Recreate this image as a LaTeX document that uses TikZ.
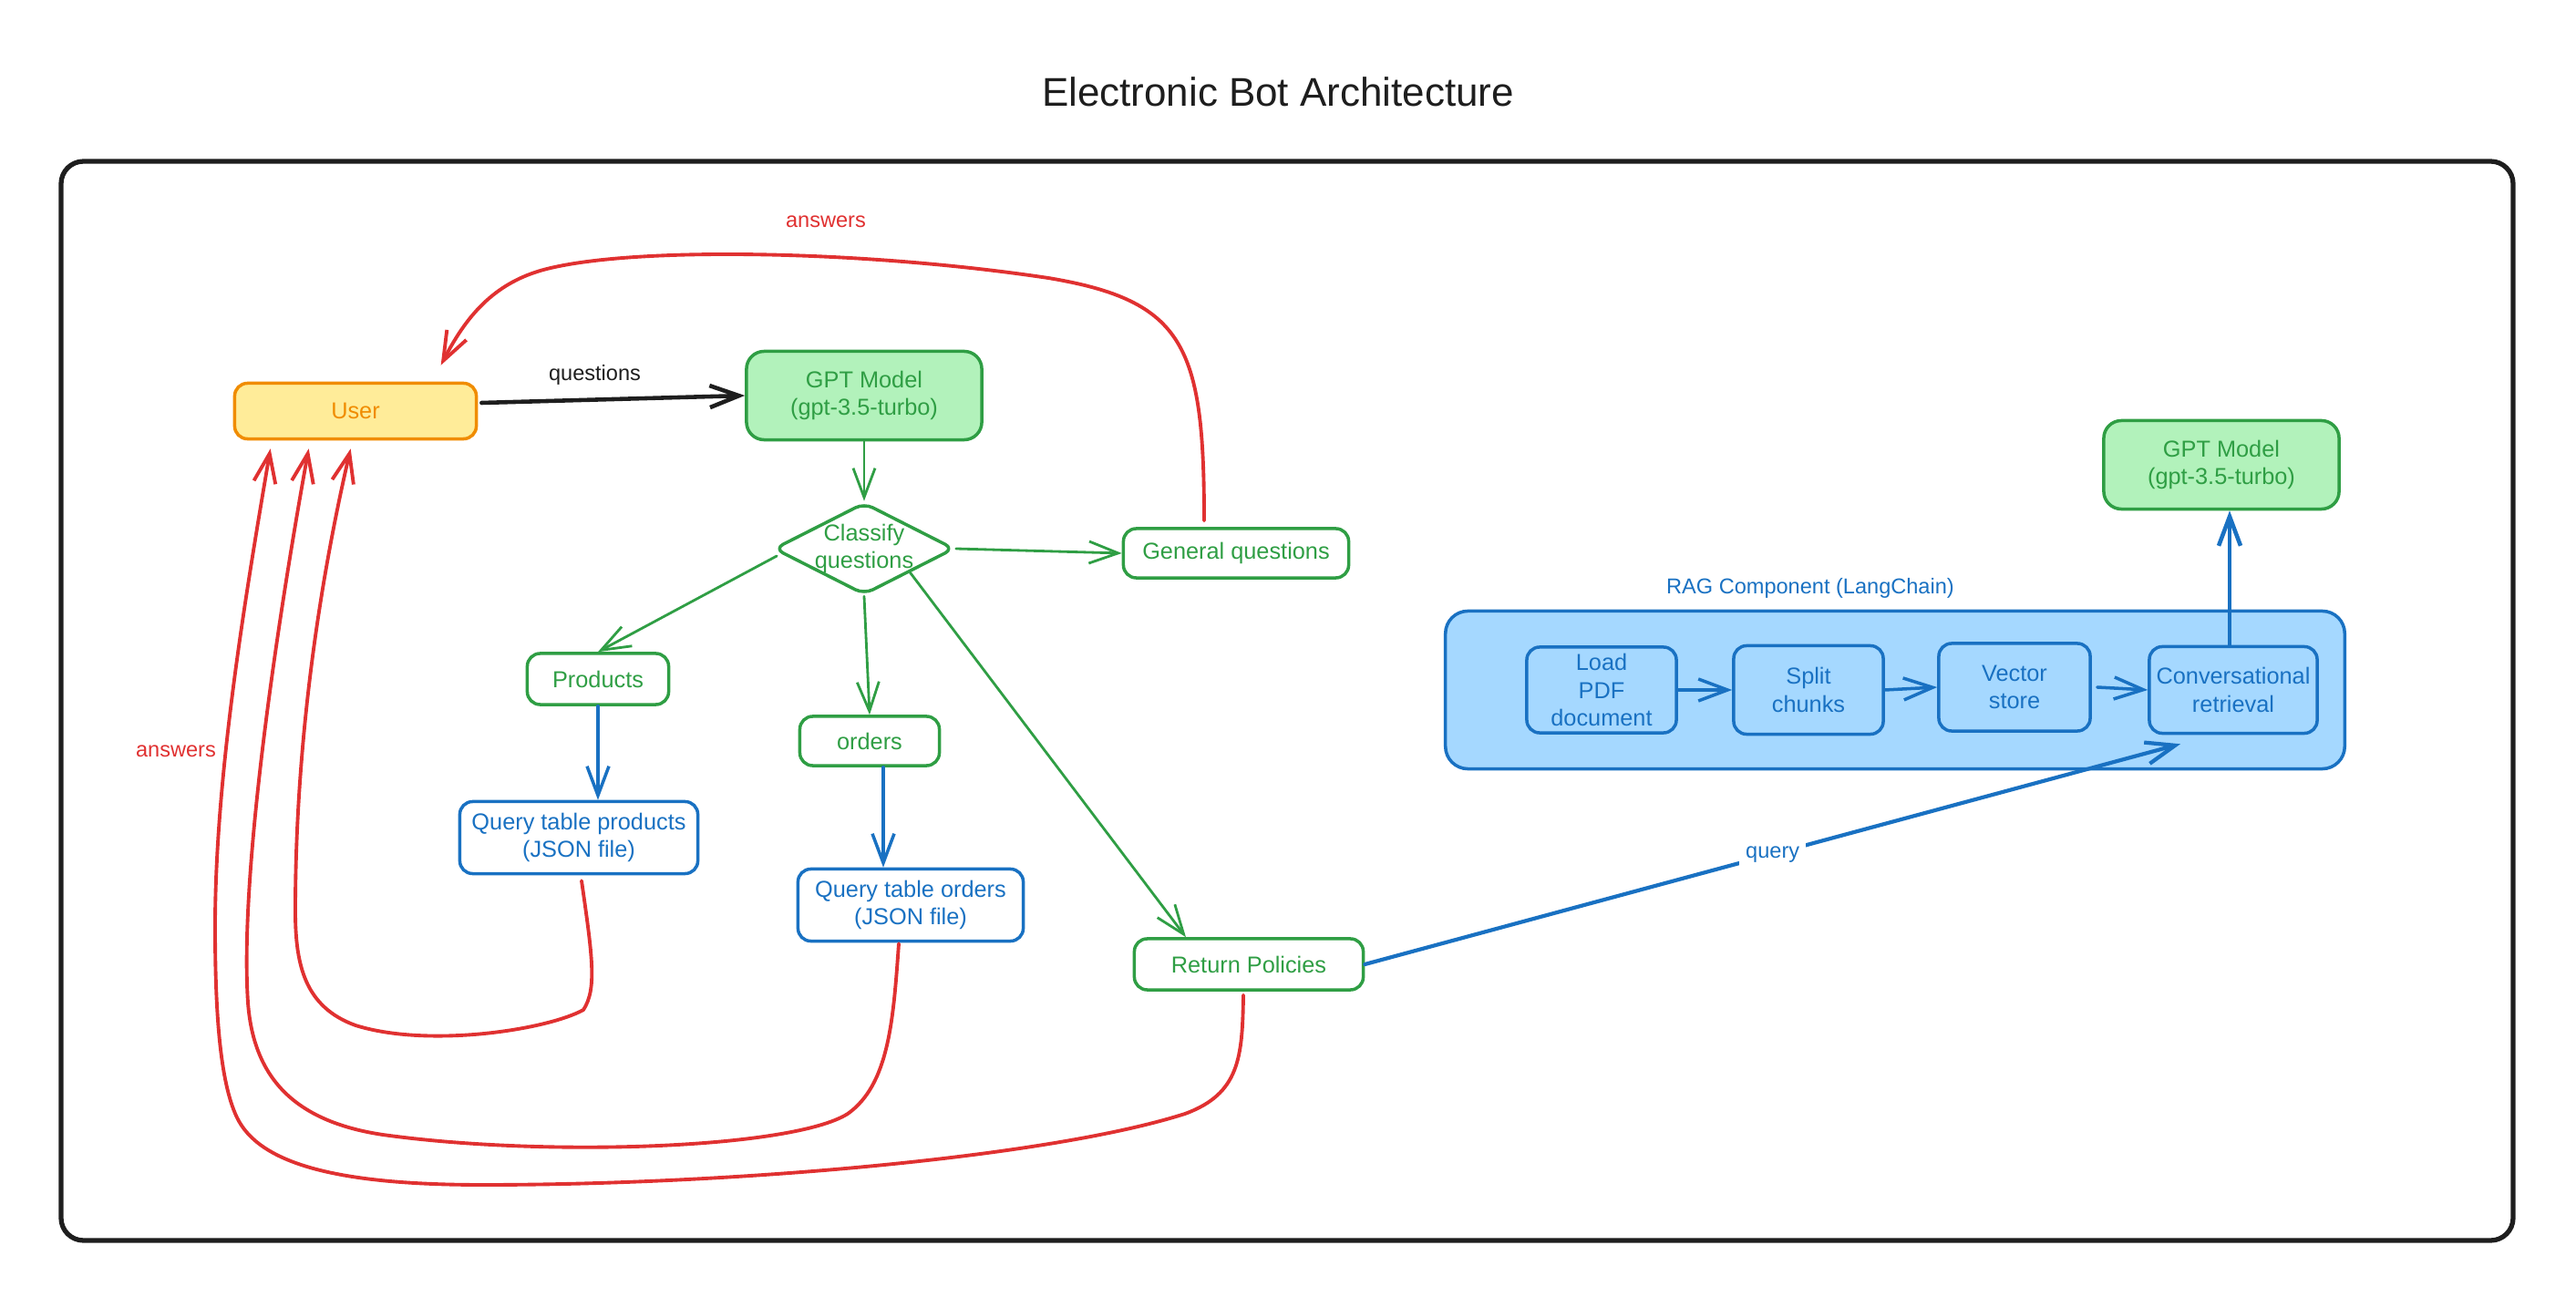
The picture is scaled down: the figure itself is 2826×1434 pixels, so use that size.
\documentclass[tikz,border=0pt]{standalone}
\usepackage{fontspec}
\setmainfont{Liberation Sans}
\usetikzlibrary{arrows.meta,shapes.geometric,calc}
\definecolor{exred}{HTML}{E03131}
\definecolor{exgreen}{HTML}{2F9E44}
\definecolor{exblue}{HTML}{1971C2}
\definecolor{exorange}{HTML}{F08C00}
\definecolor{exyellow}{HTML}{FFEC99}
\definecolor{exgfill}{HTML}{B2F2BB}
\definecolor{exbfill}{HTML}{A5D8FF}
\definecolor{exblack}{HTML}{1E1E1E}
\begin{document}
\begin{tikzpicture}[x=0.01cm,y=-0.01cm, line join=round, line cap=round,
  nodetxt/.style={font=\fontsize{7.2}{8.6}\selectfont, align=center, inner sep=1pt},
  lbl/.style={font=\fontsize{6.7}{8}\selectfont, inner sep=1pt},
  titlestyle/.style={font=\fontsize{12.5}{14}\selectfont, text=exblack},
  gbox/.style={nodetxt, draw=exgreen, text=exgreen, line width=1pt, rounded corners=4pt},
  gptbox/.style={gbox, fill=exgfill, rounded corners=5.5pt, minimum width=2.58cm, minimum height=0.97cm},
  bbox/.style={nodetxt, draw=exblue, text=exblue, line width=1pt, rounded corners=4pt},
  tipv/.style={-{Straight Barb[length=3.2mm,width=2.4mm]}},
  blkarr/.style={tipv, draw=exblack, line width=1.3pt},
  garr/.style={tipv, draw=exgreen, line width=0.8pt},
  barr/.style={tipv, draw=exblue, line width=1pt},
  ansarr/.style={tipv, draw=exred, line width=1.1pt}
]
\useasboundingbox (0,0) rectangle (2826,1434);

% frame
\draw[line width=1.5pt, draw=exblack, rounded corners=7pt] (67,177) rectangle (2757,1361);

% title
\node[titlestyle] (title) at (1402,101) {Electronic Bot Architecture};

% left part nodes
\node[nodetxt, draw=exorange, fill=exyellow, text=exorange, line width=1pt, rounded corners=4pt,
      minimum width=2.65cm, minimum height=0.61cm] (user) at (390,451) {User};
\node[gptbox] (gpt1) at (948,434) {GPT Model\\(gpt-3.5-turbo)};
\node[gbox, diamond, aspect=2, rounded corners=3pt, minimum width=1.98cm, minimum height=1.01cm, inner sep=-3pt]
      (cls) at (948,602) {Classify\\questions};
\node[gbox, minimum width=2.47cm, minimum height=0.54cm] (gen) at (1356,607) {General questions};
\node[gbox, minimum width=1.55cm, minimum height=0.56cm] (prod) at (656,745) {Products};
\node[gbox, minimum width=1.53cm, minimum height=0.54cm] (ord) at (954,813) {orders};
\node[bbox, minimum width=2.61cm, minimum height=0.79cm] (qprod) at (635,919) {Query table products\\(JSON file)};
\node[bbox, minimum width=2.47cm, minimum height=0.79cm] (qord) at (999,993) {Query table orders\\(JSON file)};
\node[gbox, minimum width=2.51cm, minimum height=0.56cm] (ret) at (1370,1058) {Return Policies};

% right part nodes
\node[gptbox] (gpt2) at (2437,510) {GPT Model\\(gpt-3.5-turbo)};
\node[draw=exblue, fill=exbfill, line width=1pt, rounded corners=7pt,
      minimum width=9.86cm, minimum height=1.73cm] (rag) at (2079,757) {};
\node[lbl, text=exblue] (raglbl) at (1986,645) {RAG Component (LangChain)};
\node[bbox, minimum width=1.64cm, minimum height=0.94cm] (load) at (1757,757) {Load\\PDF\\document};
\node[bbox, minimum width=1.64cm, minimum height=0.97cm] (split) at (1984,757) {Split\\chunks};
\node[bbox, minimum width=1.66cm, minimum height=0.96cm] (vec) at (2210,754) {Vector\\store};
\node[bbox, minimum width=1.84cm, minimum height=0.95cm] (conv) at (2450,757) {Conversational\\retrieval};

% labels
\node[lbl, text=exred] (anstop) at (906,243) {answers};
\node[lbl, text=exred] (ansleft) at (193,824) {answers};

% helper coordinates (y grows downward)
\coordinate (ua1) at ($(user.south west)+(41,9)$);
\coordinate (ua2) at ($(user.south west)+(83,9)$);
\coordinate (ua3) at ($(user.south west)+(129,9)$);
\coordinate (uat) at ($(user.north west)+(228,-18)$);
\coordinate (ue) at ($(user.east)+(4,-9)$);
\coordinate (gs) at ($(gen.north)+(-35,-7)$);
\coordinate (retin) at ($(ret.north)+(-69,0)$);
\coordinate (ordS) at ($(ord.south)+(15,0)$);
\coordinate (qend) at ($(conv.south)+(-58,10)$);
\coordinate (qps) at ($(qprod.south)+(3,6)$);
\coordinate (qos) at ($(qord.south)+(-13,1)$);
\coordinate (rps) at ($(ret.south)+(-6,4)$);
\coordinate (clsp) at ($(cls.west)+(5,8)$);

% main flow
\draw[blkarr] (ue) -- node[lbl, text=exblack, above=3pt, pos=0.43] {questions} (gpt1.west);
\draw[garr] (gpt1.south) -- (cls.north);
\draw[garr] (cls.east) -- (gen.west);
\draw[garr] (clsp) -- (prod.north);
\draw[garr] (cls.south) -- (ord.north);
\draw[garr] (cls.south east) -- (retin);
\draw[barr] (prod.south) -- (prod.south |- qprod.north);
\draw[barr] (ordS) -- (ordS |- qord.north);

% RAG flow
\draw[barr] (load.east) -- (split.west);
\draw[barr] (split.east) -- (vec.west);
\draw[barr] ($(vec.east)+(6,0)$) -- (conv.west);
\draw[barr, line width=1.3pt] ($(conv.north)+(-4,0)$) coordinate (cn) -- (cn |- gpt2.south);
\draw[barr, line width=1.2pt] (ret.east) -- node[lbl, text=exblue, fill=white, pos=0.5, inner sep=2pt] {query} (qend);

% answers back to user
\draw[ansarr] (gs) .. controls (1321,380) and (1300,330) .. (1150,305)
   .. controls (950,275) and (700,270) .. (600,295)
   .. controls (540,310) and (510,350) .. (uat);
\draw[ansarr] (qps) .. controls (650,1050) and (655,1085) .. (640,1108)
   .. controls (600,1130) and (470,1150) .. (390,1125)
   .. controls (335,1105) and (324,1060) .. (324,1000)
   .. controls (324,800) and (355,620) .. (ua3);
\draw[ansarr] (qos) .. controls (980,1120) and (975,1190) .. (930,1222)
   .. controls (870,1260) and (600,1270) .. (420,1245)
   .. controls (320,1230) and (278,1180) .. (272,1100)
   .. controls (262,950) and (310,650) .. (ua2);
\draw[ansarr] (rps) .. controls (1363,1160) and (1360,1200) .. (1300,1222)
   .. controls (1150,1270) and (800,1300) .. (530,1300)
   .. controls (380,1300) and (290,1280) .. (262,1230)
   .. controls (240,1190) and (236,1100) .. (236,1017)
   .. controls (236,850) and (270,650) .. (ua1);
\end{tikzpicture}
\end{document}
